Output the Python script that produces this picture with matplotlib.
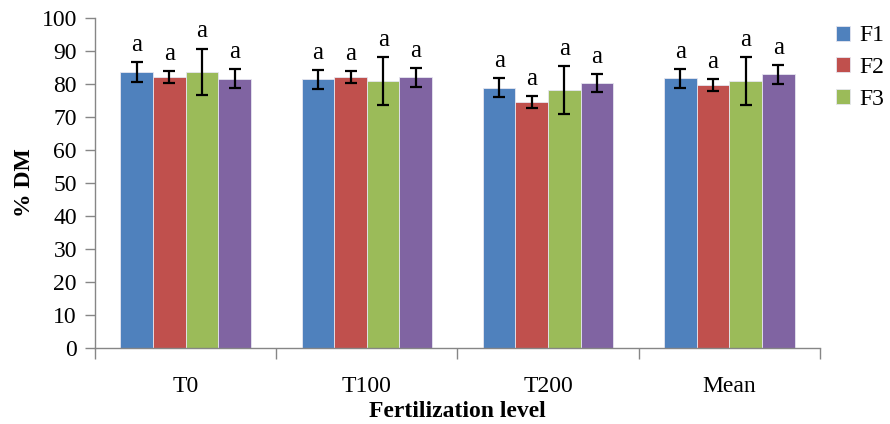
import numpy as np
import matplotlib.pyplot as plt

plt.rcParams['font.family'] = ['Liberation Serif', 'DejaVu Serif']

categories = ['T0', 'T100', 'T200', 'Mean']
series_names = ['F1', 'F2', 'F3', 'F4']
colors = ['#4F81BD', '#C0504D', '#9BBB59', '#8064A2']

f1 = [83.7, 81.4, 78.9, 81.7]
f2 = [82.2, 82.2, 74.6, 79.6]
f3 = [83.7, 80.9, 78.2, 80.9]
f4 = [81.6, 82.0, 80.2, 82.9]
f1_err = [3.0, 2.9, 2.9, 2.9]
f2_err = [1.8, 1.8, 1.8, 1.8]
f3_err = [7.0, 7.2, 7.2, 7.2]
f4_err = [2.9, 2.8, 2.7, 2.9]
letters = ['a', 'a', 'a', 'a']

values = [f1, f2, f3, f4]
errors = [f1_err, f2_err, f3_err, f4_err]

fig = plt.figure(figsize=(8.9, 4.24), dpi=100)
ax = fig.add_axes([0.1067, 0.179, 0.8146, 0.779])

x = np.arange(len(categories))
w = 0.18
bars = []
for i in range(4):
    pos = x + (i - 1.5) * w
    b = ax.bar(pos, values[i], w, color=colors[i], edgecolor='#E6E6F0', linewidth=0.6,
               label=series_names[i], zorder=2)
    bars.append(b)
    ax.errorbar(pos, values[i], yerr=errors[i], fmt='none', ecolor='black',
                elinewidth=1.6, capsize=4, capthick=1.6, zorder=3)
    for j in range(len(categories)):
        ax.annotate(letters[i], (pos[j], values[i][j] + errors[i][j]),
                    xytext=(0, 8), textcoords='offset points',
                    ha='center', va='baseline', fontsize=18)

ax.set_ylim(0, 100)
ax.set_yticks(np.arange(0, 101, 10))
ax.set_xlim(-0.5, 3.5)
ax.set_xticks(x)
ax.set_xticklabels(categories, fontsize=17)
ax.set_xticks(np.arange(-0.5, 4, 1), minor=True)
ax.tick_params(axis='x', which='major', length=0, pad=20)
ax.tick_params(axis='x', which='minor', length=8, direction='out', color='#868686', width=1)
ax.tick_params(axis='y', labelsize=17, length=7, direction='out', color='#868686', width=1, pad=6)

for s in ['top', 'right']:
    ax.spines[s].set_visible(False)
for s in ['left', 'bottom']:
    ax.spines[s].set_color('#868686')
    ax.spines[s].set_linewidth(1)

ax.set_ylabel('% DM', fontsize=17, fontweight='bold', labelpad=5)
ax.set_xlabel('Fertilization level', fontsize=17, fontweight='bold', labelpad=3)

ax.legend(handles=bars[:3], labels=series_names[:3], loc='upper left',
          bbox_to_anchor=(0.915, 0.99), bbox_transform=fig.transFigure,
          frameon=False, fontsize=17, handlelength=0.6, handleheight=0.6,
          handletextpad=0.4, labelspacing=0.45)

fig.savefig('out.png', dpi=100)
